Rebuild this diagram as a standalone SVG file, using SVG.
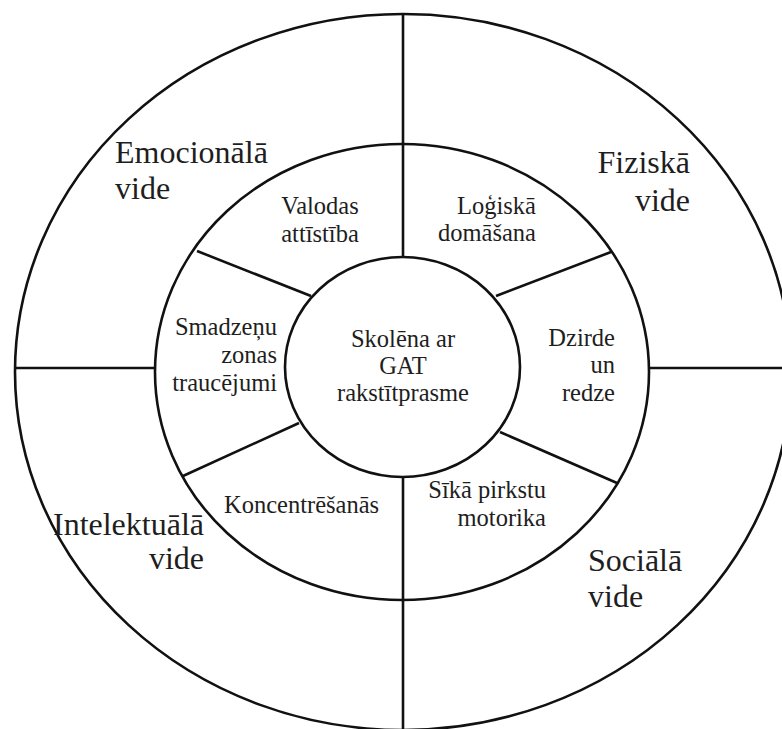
<svg xmlns="http://www.w3.org/2000/svg" width="782" height="729" viewBox="0 0 782 729">
<style>
.ln{fill:none;stroke:#111;stroke-width:2.6}
.big{font-family:"Liberation Serif","Times New Roman",serif;font-size:32px;fill:#1e1e1e}
.mid{font-family:"Liberation Serif","Times New Roman",serif;font-size:24.5px;fill:#1e1e1e}
.c{text-anchor:middle}
.e{text-anchor:end}
</style>
<rect width="782" height="729" fill="#fff"/>
<g id="outer-ring"><ellipse class="ln" cx="403" cy="372" rx="388" ry="358"/></g>
<g id="middle-ring"><ellipse class="ln" cx="402" cy="372" rx="247" ry="228"/></g>
<g id="center"><ellipse class="ln" cx="402.5" cy="367" rx="117.5" ry="110"/>
<text class="mid c" x="403" y="347">Skolēna ar</text>
<text class="mid c" x="403" y="374">GAT</text>
<text class="mid c" x="403" y="401">rakstītprasme</text></g>
<g id="connectors">
<line class="ln" x1="403" y1="14" x2="403" y2="257"/>
<line class="ln" x1="403" y1="477" x2="403" y2="729"/>
<line class="ln" x1="15" y1="368" x2="155" y2="368"/>
<line class="ln" x1="649" y1="368" x2="782" y2="368"/>
<line class="ln" x1="197" y1="251" x2="311" y2="296"/>
<line class="ln" x1="611" y1="252" x2="496" y2="296"/>
<line class="ln" x1="183" y1="476" x2="299" y2="423"/>
<line class="ln" x1="617" y1="483" x2="500" y2="432"/>
</g>
<g id="emocionala"><text class="big" x="115" y="163">Emocionālā</text><text class="big" x="115" y="199">vide</text></g>
<g id="fiziska"><text class="big e" x="690" y="173">Fiziskā</text><text class="big e" x="690" y="211">vide</text></g>
<g id="intelektuala"><text class="big e" x="204" y="535">Intelektuālā</text><text class="big e" x="204" y="569">vide</text></g>
<g id="sociala"><text class="big" x="588" y="571">Sociālā</text><text class="big" x="588" y="607">vide</text></g>
<g id="valodas"><text class="mid c" x="320" y="214">Valodas</text><text class="mid c" x="320" y="242">attīstība</text></g>
<g id="logiska"><text class="mid e" x="536" y="214">Loģiskā</text><text class="mid e" x="536" y="241">domāšana</text></g>
<g id="smadzenu"><text class="mid e" x="277" y="335">Smadzeņu</text><text class="mid e" x="277" y="363">zonas</text><text class="mid e" x="277" y="391">traucējumi</text></g>
<g id="dzirde"><text class="mid e" x="615" y="346">Dzirde</text><text class="mid e" x="615" y="373">un</text><text class="mid e" x="615" y="401">redze</text></g>
<g id="koncentresanas"><text class="mid" x="224" y="513">Koncentrēšanās</text></g>
<g id="sika"><text class="mid e" x="546" y="498">Sīkā pirkstu</text><text class="mid e" x="546" y="526">motorika</text></g>
</svg>
